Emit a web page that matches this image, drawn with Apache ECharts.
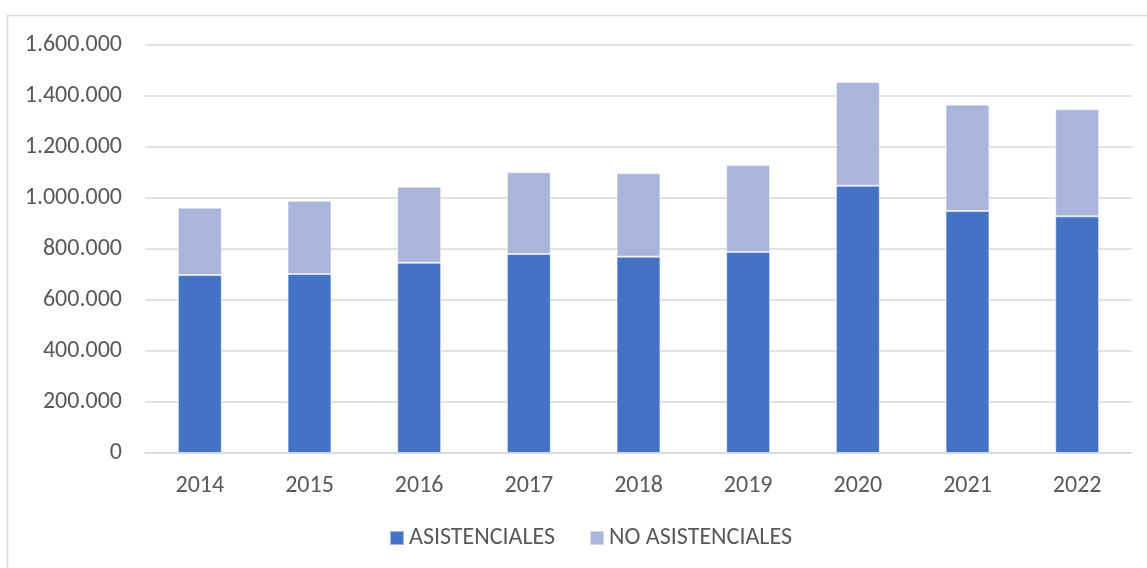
<!DOCTYPE html>
<html>
<head>
<meta charset="utf-8">
<script src="https://cdn.jsdelivr.net/npm/echarts@6/dist/echarts.min.js"></script>
<style>
    html, body { margin: 0; padding: 0; background: #fff; }
    #chart { width: 1147px; height: 568px; }
</style>
</head>
<body>
<div id="chart"></div>
<script>
// datos
const years = ['2014', '2015', '2016', '2017', '2018', '2019', '2020', '2021', '2022']
const asistenciales = [698000, 702000, 746000, 780000, 770000, 788000, 1048000, 949000, 928000]
const noAsistenciales = [264000, 287000, 298000, 321000, 327000, 341000, 407000, 417000, 420000]
const yTicks = { min: 0, max: 1600000, interval: 200000 }

const fmt = v => String(v).replace(/\B(?=(\d{3})+(?!\d))/g, '.')
const font = 'Carlito, "Open Sans", "Liberation Sans", sans-serif'

const chart = echarts.init(document.getElementById('chart'))
chart.setOption({
    animation: false,
    textStyle: { fontFamily: font },
    graphic: [{
        type: 'rect',
        shape: { x: 7.5, y: 15.5, width: 1200, height: 600 },
        style: { fill: 'none', stroke: '#d9d9d9', lineWidth: 1.5 },
        silent: true
    }],
    grid: { left: 145, right: 15, top: 45, bottom: 115 },
    legend: {
        bottom: 13,
        left: 384,
        itemWidth: 14,
        itemHeight: 14,
        itemGap: 34,
        icon: 'rect',
        textStyle: { color: '#595959', fontSize: 24, fontFamily: font },
        data: ['ASISTENCIALES', 'NO ASISTENCIALES']
    },
    xAxis: {
        type: 'category',
        data: years,
        axisTick: { show: false },
        axisLine: { lineStyle: { color: '#d9d9d9', width: 1.5 } },
        axisLabel: { color: '#595959', fontSize: 24, margin: 21 }
    },
    yAxis: {
        type: 'value',
        min: yTicks.min,
        max: yTicks.max,
        interval: yTicks.interval,
        axisLine: { show: false },
        axisTick: { show: false },
        splitLine: { lineStyle: { color: '#d9d9d9', width: 1.5 } },
        axisLabel: { color: '#595959', fontSize: 24, margin: 23, formatter: fmt }
    },
    series: [
        {
            name: 'ASISTENCIALES',
            type: 'bar',
            stack: 'total',
            barWidth: '40%',
            data: asistenciales,
            itemStyle: { color: '#4472c4', borderColor: 'rgba(255,255,255,0.5)', borderWidth: 1 }
        },
        {
            name: 'NO ASISTENCIALES',
            type: 'bar',
            stack: 'total',
            barWidth: '40%',
            data: noAsistenciales,
            itemStyle: { color: '#a9b5da', borderColor: 'rgba(255,255,255,0.5)', borderWidth: 1 }
        }
    ]
})
</script>
</body>
</html>
